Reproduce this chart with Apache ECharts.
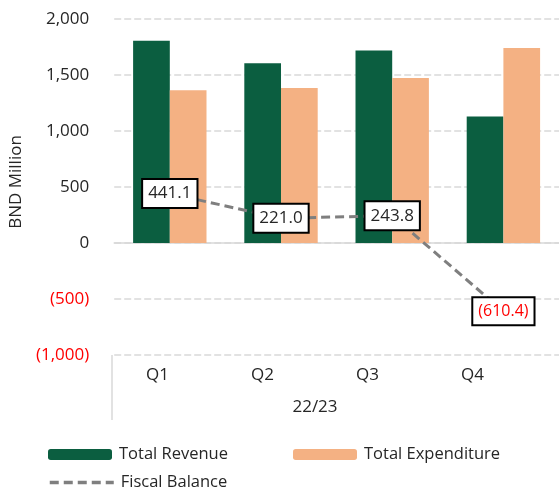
<!DOCTYPE html>
<html>
<head>
<meta charset="utf-8">
<script src="https://cdn.jsdelivr.net/npm/echarts@6/dist/echarts.min.js"></script>
<style>
html,body{margin:0;padding:0;background:#fff;}
#c{width:559px;height:489px;}
</style>
</head>
<body>
<div id="c"></div>
<script>
const categories = ['Q1', 'Q2', 'Q3', 'Q4'];
const groupLabel = '22/23';
const revenue = [1805, 1606, 1718, 1130];
const expenditure = [1364, 1385, 1474, 1740];
const balance = [441.1, 221.0, 243.8, -610.4];
const yTicks = { min: -1000, max: 2000, interval: 500 };

const FONT = 'Open Sans';
const TXT = '#262626';
const RED = '#ff0000';

function fmtAxis(v) {
  const s = Math.abs(v).toLocaleString('en-US');
  return v < 0 ? '{neg|(' + s + ')}' : '{pos|' + s + '}';
}
function fmtLabel(v) {
  const s = Math.abs(v).toFixed(1);
  return v < 0 ? '{neg|(' + s + ')}' : '{pos|' + s + '}';
}

const chart = echarts.init(document.getElementById('c'), null, { renderer: 'canvas' });
chart.setOption({
  animation: false,
  textStyle: { fontFamily: FONT },
  grid: [
    { left: 112, right: 0, top: 19, height: 336 },
    { left: 105, width: 420, top: 355, height: 0 }
  ],
  xAxis: [
    {
      type: 'category', gridIndex: 0, data: categories,
      axisLine: { lineStyle: { color: '#d9d9d9', width: 1.5 } },
      axisTick: { show: false },
      axisLabel: { show: false }
    },
    {
      type: 'category', gridIndex: 1, data: categories,
      position: 'bottom',
      axisLine: { show: false },
      axisTick: { show: false },
      axisLabel: { margin: 12, color: TXT, fontSize: 17, fontFamily: FONT },
      name: groupLabel, nameLocation: 'middle', nameGap: 44,
      nameTextStyle: { color: TXT, fontSize: 17, fontFamily: FONT, verticalAlign: 'top' }
    }
  ],
  yAxis: [
    {
      type: 'value', gridIndex: 0,
      min: yTicks.min, max: yTicks.max, interval: yTicks.interval,
      name: 'BND Million', nameLocation: 'middle', nameGap: 82,
      nameTextStyle: { color: TXT, fontSize: 17, fontFamily: FONT, padding: [0, 0, 0, 10] },
      axisLine: { show: false }, axisTick: { show: false },
      splitLine: { lineStyle: { color: '#d9d9d9', width: 1.5, type: [7, 3] } },
      axisLabel: {
        margin: 25, formatter: fmtAxis,
        rich: {
          pos: { color: TXT, fontSize: 17, fontFamily: FONT },
          neg: { color: RED, fontSize: 17, fontFamily: FONT }
        }
      }
    },
    { type: 'value', gridIndex: 1, show: false }
  ],
  legend: [
    { data: ['Total Revenue'], left: 48, top: 446, padding: 0, itemWidth: 64, itemHeight: 11,
      itemStyle: { borderRadius: 0 },
      textStyle: { color: TXT, fontSize: 16.5, fontFamily: FONT, padding: [0, 0, 0, 2] } },
    { data: ['Total Expenditure'], left: 293, top: 446, padding: 0, itemWidth: 64, itemHeight: 11,
      itemStyle: { borderRadius: 0 },
      textStyle: { color: TXT, fontSize: 16.5, fontFamily: FONT, padding: [0, 0, 0, 2] } },
    { data: ['Fiscal Balance'], left: 48, top: 474, padding: 0, itemWidth: 64, itemHeight: 11,
      lineStyle: { width: 3.5, type: [9, 5], color: '#7f7f7f' },
      textStyle: { color: TXT, fontSize: 16.5, fontFamily: FONT, padding: [0, 0, 0, 2] } }
  ],
  series: [
    {
      name: 'Total Revenue', type: 'bar', data: revenue,
      barGap: '0%', barCategoryGap: '34%',
      itemStyle: { color: '#0b5e40' }
    },
    {
      name: 'Total Expenditure', type: 'bar', data: expenditure,
      barGap: '0%', barCategoryGap: '34%',
      itemStyle: { color: '#f4b183' }
    },
    {
      name: 'Fiscal Balance', type: 'line', data: balance,
      symbol: 'circle', symbolSize: 2, showSymbol: true,
      lineStyle: { color: '#7f7f7f', width: 3, type: [9, 5] },
      itemStyle: { color: 'rgba(0,0,0,0)', borderWidth: 0 },
      z: 5,
      labelLayout: { hideOverlap: false },
      label: {
        show: true, position: 'inside',
        formatter: p => fmtLabel(p.value),
        backgroundColor: '#fff', borderColor: '#000', borderWidth: 2,
        padding: [5, 5, 5, 5],
        rich: {
          pos: { color: TXT, fontSize: 17, fontFamily: FONT },
          neg: { color: RED, fontSize: 16, fontFamily: FONT }
        }
      }
    }
  ],
  graphic: [
    { type: 'line', shape: { x1: 112, y1: 355, x2: 112, y2: 420 },
      style: { stroke: '#d9d9d9', lineWidth: 1.5 } }
  ]
});
</script>
</body>
</html>
